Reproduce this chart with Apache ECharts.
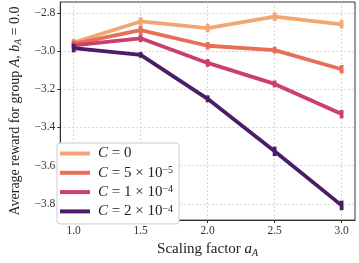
<!DOCTYPE html>
<html><head><meta charset="utf-8">
<script src="https://cdn.jsdelivr.net/npm/echarts@6/dist/echarts.min.js"></script>
<style>html,body{margin:0;padding:0;background:#fff}#c{width:359px;height:263px}</style>
</head><body><div id="c"></div>
<script>
const xValues = [1.0, 1.5, 2.0, 2.5, 3.0];
const seriesNames = ['C = 0', 'C = 5e-5', 'C = 1e-4', 'C = 2e-4'];
const meanC0   = [-2.955, -2.845, -2.880, -2.820, -2.860];
const meanC5e5 = [-2.962, -2.890, -2.972, -2.995, -3.095];
const meanC1e4 = [-2.970, -2.933, -3.062, -3.172, -3.330];
const meanC2e4 = [-2.985, -3.020, -3.250, -3.525, -3.808];
const errC0   = [0.020, 0.022, 0.022, 0.022, 0.022];
const errC5e5 = [0.018, 0.022, 0.020, 0.018, 0.022];
const errC1e4 = [0.018, 0.020, 0.020, 0.018, 0.022];
const errC2e4 = [0.022, 0.015, 0.018, 0.025, 0.025];
const xTicks = [1.0, 1.5, 2.0, 2.5, 3.0];
const yTicks = [-3.8, -3.6, -3.4, -3.2, -3.0, -2.8];
const colors = ['#f2a676', '#e86e55', '#c93f6d', '#4b1d68'];

const means = [meanC0, meanC5e5, meanC1e4, meanC2e4];
const errs = [errC0, errC5e5, errC1e4, errC2e4];
const legendLabels = {
  'C = 0': '{i|C} = 0',
  'C = 5e-5': '{i|C} = 5 × 10{s|−5}',
  'C = 1e-4': '{i|C} = 1 × 10{s|−4}',
  'C = 2e-4': '{i|C} = 2 × 10{s|−4}'
};
const FONT = '"Liberation Serif", "DejaVu Serif", serif';
const fmtNum = v => (v < 0 ? '−' : '') + Math.abs(v).toFixed(1);

const series = [];
means.forEach((m, k) => {
  series.push({
    name: seriesNames[k], type: 'line', showSymbol: false, symbol: 'none',
    data: xValues.map((x, i) => [x, m[i]]),
    lineStyle: {width: 3.8, color: colors[k], cap: 'butt'},
    itemStyle: {color: colors[k]},
    z: 2 + k * 2, animation: false
  });
  series.push({
    name: seriesNames[k], type: 'custom',
    data: xValues.map((x, i) => [x, m[i] - errs[k][i], m[i] + errs[k][i]]),
    encode: {x: 0, y: [1, 2]},
    renderItem: (params, api) => {
      const p1 = api.coord([api.value(0), api.value(1)]);
      const p2 = api.coord([api.value(0), api.value(2)]);
      return {type: 'line', shape: {x1: p1[0], y1: p1[1], x2: p2[0], y2: p2[1]},
        style: {stroke: colors[k], lineWidth: 3.8}};
    },
    z: 3 + k * 2, animation: false, silent: true
  });
});

const chart = echarts.init(document.getElementById('c'), null, {renderer: 'canvas'});
chart.setOption({
  animation: false,
  backgroundColor: '#fff',
  textStyle: {fontFamily: FONT},
  grid: {left: 49, top: 2, right: 4, bottom: 34, show: true, borderColor: '#333', borderWidth: 1, backgroundColor: 'transparent'},
  legend: {
    data: seriesNames, orient: 'vertical', left: 57, top: 143,
    backgroundColor: '#fff', borderColor: '#cccccc', borderWidth: 1, borderRadius: 3,
    padding: [3, 6, 5, 3], itemGap: 4.3, itemWidth: 30, itemHeight: 4, icon: 'rect',
    formatter: n => legendLabels[n],
    textStyle: {fontFamily: FONT, fontSize: 15, color: '#222', lineHeight: 15, padding: [0, 0, 0, 3],
      rich: {i: {fontStyle: 'italic', fontFamily: FONT, fontSize: 15, color: '#222'},
             s: {fontSize: 10, fontFamily: FONT, verticalAlign: 'top', lineHeight: 10, color: '#222'}}}
  },
  xAxis: {
    type: 'value', min: 0.9, max: 3.1,
    name: 'Scaling factor {i|a}{sub|A}', nameLocation: 'middle', nameGap: 20,
    nameTextStyle: {fontFamily: FONT, fontSize: 15, color: '#222',
      rich: {i: {fontStyle: 'italic', fontFamily: FONT, fontSize: 15, color: '#222'},
             sub: {fontStyle: 'italic', fontFamily: FONT, fontSize: 10, color: '#222', verticalAlign: 'bottom', padding: [7, 0, 0, 0]}}},
    axisLine: {show: true, lineStyle: {color: '#333', width: 1}},
    axisTick: {show: true, length: 3, customValues: xTicks, lineStyle: {color: '#333'}},
    axisLabel: {customValues: xTicks, formatter: v => fmtNum(v), fontFamily: FONT, fontSize: 11.5, color: '#333', margin: 5},
    splitLine: {show: true, lineStyle: {color: '#cccccc', type: [2, 2], width: 0.8}}
  },
  yAxis: {
    type: 'value', min: -3.885, max: -2.743,
    name: 'Average reward for group {i|A}, {i|b}{sub|A} = 0.0', nameLocation: 'middle', nameGap: 34, nameRotate: 90,
    nameTextStyle: {fontFamily: FONT, fontSize: 14, color: '#222',
      rich: {i: {fontStyle: 'italic', fontFamily: FONT, fontSize: 14, color: '#222'},
             sub: {fontStyle: 'italic', fontFamily: FONT, fontSize: 9.5, color: '#222', verticalAlign: 'bottom', padding: [7, 0, 0, 0]}}},
    axisLine: {show: true, lineStyle: {color: '#333', width: 1}},
    axisTick: {show: true, length: 3, customValues: yTicks, lineStyle: {color: '#333'}},
    axisLabel: {customValues: yTicks, formatter: v => fmtNum(v), fontFamily: FONT, fontSize: 11.5, color: '#333', margin: 5},
    splitLine: {show: true, lineStyle: {color: '#cccccc', type: [2, 2], width: 0.8}}
  },
  series: series
});
</script></body></html>
